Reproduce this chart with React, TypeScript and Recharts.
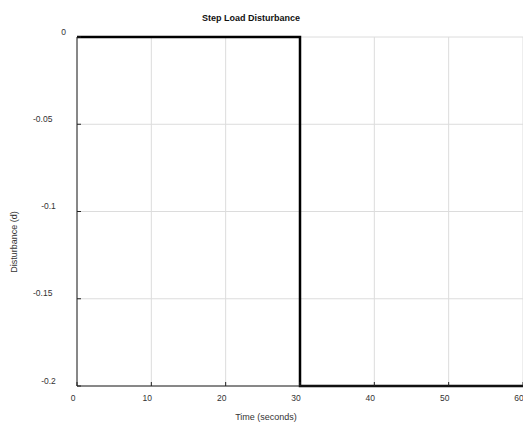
import { LineChart, Line, XAxis, YAxis, CartesianGrid } from 'recharts'

const times = [0, 30, 30, 60]
const disturbance = [0, 0, -0.2, -0.2]
const xTicks = [0, 10, 20, 30, 40, 50, 60]
const yTicks = [0, -0.05, -0.1, -0.15, -0.2]

const data = times.map((t, i) => ({ t, d: disturbance[i] }))

const FONT = '"Liberation Sans", Arial, sans-serif'
const AXIS = '#222'
const TXT = '#333'

function BottomTick({ x, y, payload }: any) {
  return (
    <g>
      <line x1={x} x2={x} y1={y} y2={y - 4} stroke={AXIS} />
      <text x={x - 4} y={y + 15} textAnchor="middle" fontSize={8.5} fill={TXT} fontFamily={FONT}>
        {payload.value}
      </text>
    </g>
  )
}

function TopTick({ x, y }: any) {
  return <line x1={x} x2={x} y1={y} y2={y + 4} stroke={AXIS} />
}

function LeftTick({ x, y, payload }: any) {
  const label = String(payload.value)
  return (
    <g>
      <line x1={x} x2={x + 4} y1={y} y2={y} stroke={AXIS} />
      <text x={x - 11 - 3.4 * (label.length - 1)} y={y - 2.5} textAnchor="end" fontSize={8.5} fill={TXT} fontFamily={FONT}>
        {label}
      </text>
    </g>
  )
}

function RightTick({ x, y }: any) {
  return <line x1={x} x2={x - 4} y1={y} y2={y} stroke={AXIS} />
}

export default function App() {
  return (
    <div style={{ position: 'absolute', left: 0, top: 0, width: 523, height: 427, background: '#fff', fontFamily: FONT }}>
      <LineChart width={523} height={427} data={data} margin={{ top: 37, right: 0, bottom: 0, left: 0 }}>
        <CartesianGrid xAxisId="b" yAxisId="l" stroke="#dcdcdc" strokeWidth={1} />
        <XAxis xAxisId="b" dataKey="t" type="number" domain={[0, 60]} ticks={xTicks} height={41}
          axisLine={{ stroke: AXIS }} tickLine={false} tickSize={0} tickMargin={0} tick={<BottomTick />} interval={0} />
        <XAxis xAxisId="top" orientation="top" dataKey="t" type="number" domain={[0, 60]} ticks={xTicks} height={0}
          axisLine={{ stroke: AXIS }} tickLine={false} tickSize={0} tickMargin={0} tick={<TopTick />} interval={0} />
        <YAxis yAxisId="l" type="number" domain={[-0.2, 0]} ticks={yTicks} width={77}
          axisLine={{ stroke: AXIS }} tickLine={false} tickSize={0} tickMargin={0} tick={<LeftTick />} interval={0} />
        <YAxis yAxisId="r" orientation="right" type="number" domain={[-0.2, 0]} ticks={yTicks} width={0}
          axisLine={{ stroke: AXIS }} tickLine={false} tickSize={0} tickMargin={0} tick={<RightTick />} interval={0} />
        <Line xAxisId="b" yAxisId="l" type="linear" dataKey="d" stroke="#000" strokeWidth={2.5} dot={false} isAnimationActive={false} />
      </LineChart>
      <div style={{ position: 'absolute', left: 251, top: 18, transform: 'translate(-50%, -50%)', fontSize: 9, fontWeight: 'bold', color: '#111', whiteSpace: 'nowrap' }}>
        Step Load Disturbance
      </div>
      <div style={{ position: 'absolute', left: 266, top: 417, transform: 'translate(-50%, -50%)', fontSize: 9, color: TXT, whiteSpace: 'nowrap' }}>
        Time (seconds)
      </div>
      <div style={{ position: 'absolute', left: 14, top: 242, transform: 'translate(-50%, -50%) rotate(-90deg)', fontSize: 9, color: TXT, whiteSpace: 'nowrap' }}>
        Disturbance (d)
      </div>
    </div>
  )
}
